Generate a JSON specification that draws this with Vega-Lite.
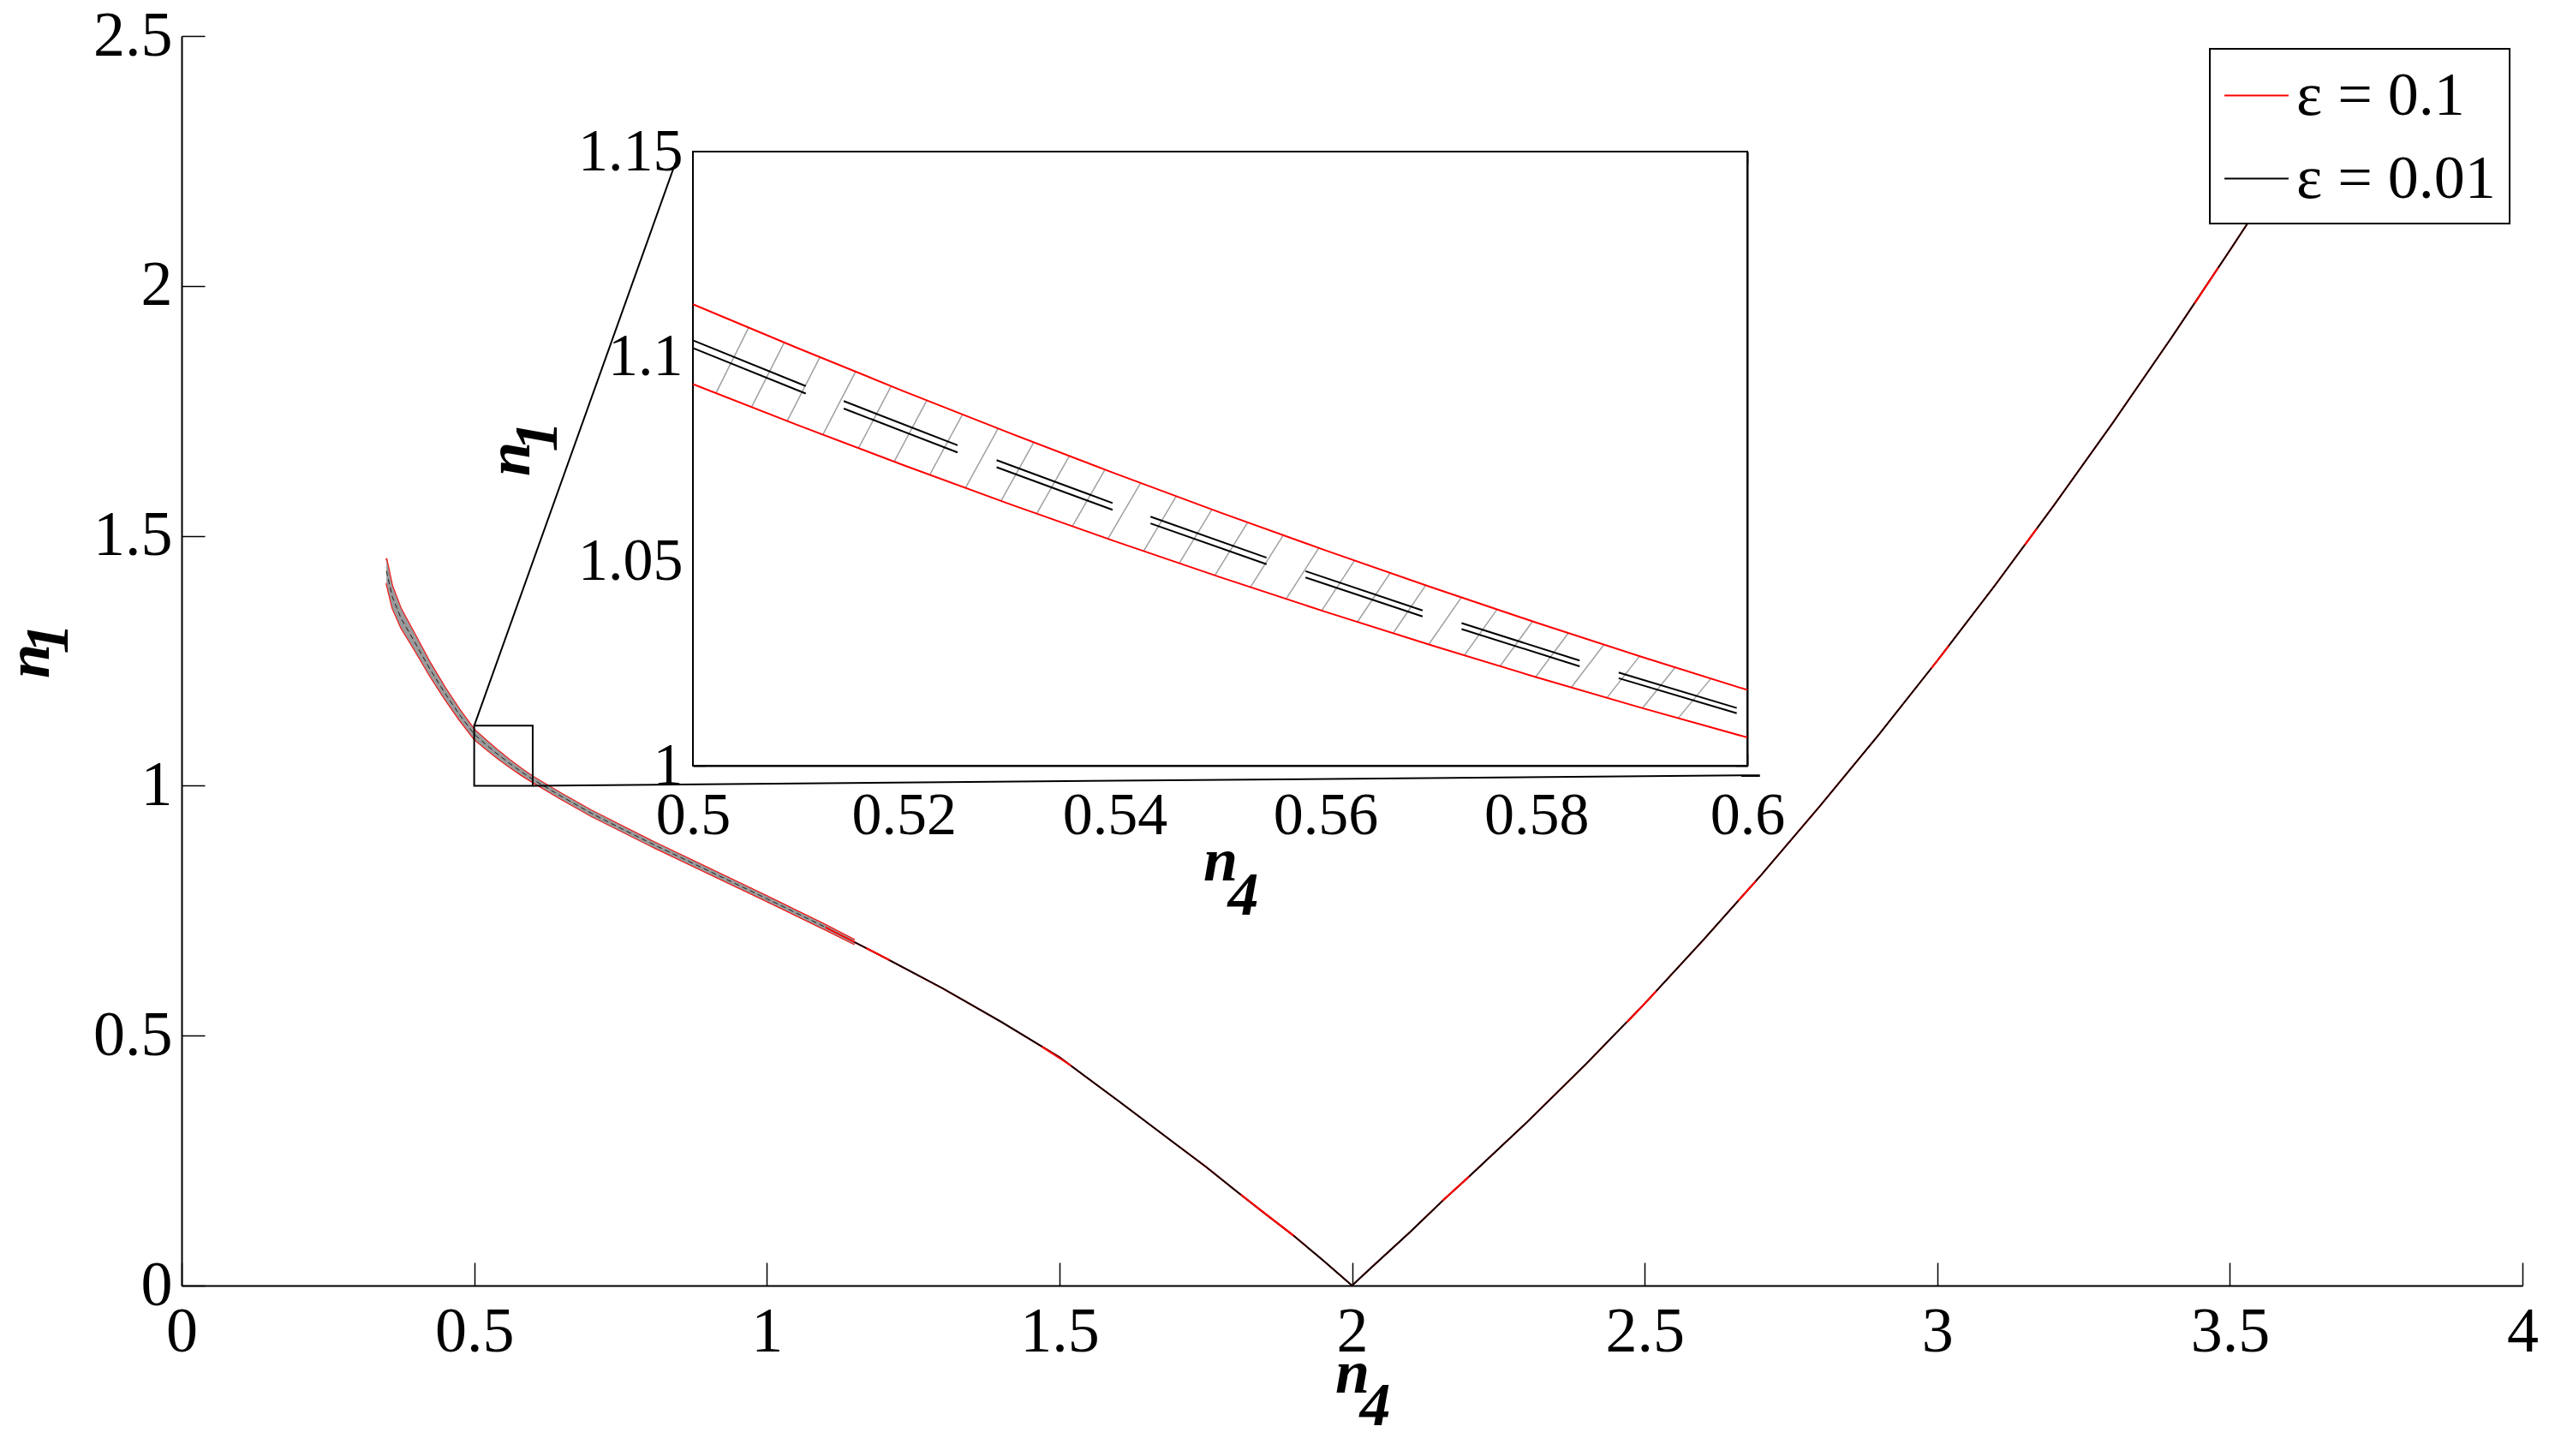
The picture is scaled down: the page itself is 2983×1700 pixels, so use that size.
{
  "$schema": "https://vega.github.io/schema/vega-lite/v6.json",
  "width": 2733,
  "height": 1459,
  "autosize": {"type": "none"},
  "padding": {"left": 212, "top": 42, "right": 38, "bottom": 199},
  "background": "white",
  "config": {
    "view": {"stroke": null},
    "legend": {"strokeWidth": 2},
    "axis": {"grid": false, "labelFont": "Liberation Serif", "titleFont": "Liberation Serif", "labelColor": "black", "titleColor": "black", "domainColor": "black", "tickColor": "black", "labelFlush": false, "labelOverlap": false, "zindex": 1}
  },
  "datasets": {
    "center": [
      {"x": 0.35, "y": 1.43}, {"x": 0.36, "y": 1.378}, {"x": 0.375, "y": 1.335}, {"x": 0.4, "y": 1.284}, {"x": 0.425, "y": 1.232},
      {"x": 0.45, "y": 1.185}, {"x": 0.475, "y": 1.142}, {"x": 0.5, "y": 1.103}, {"x": 0.52, "y": 1.0824}, {"x": 0.54, "y": 1.0631},
      {"x": 0.56, "y": 1.0451}, {"x": 0.58, "y": 1.0283}, {"x": 0.6, "y": 1.0127}, {"x": 0.65, "y": 0.978}, {"x": 0.7, "y": 0.945},
      {"x": 0.75, "y": 0.915}, {"x": 0.8, "y": 0.886}, {"x": 0.85, "y": 0.858}, {"x": 0.9, "y": 0.83}, {"x": 1.0, "y": 0.774},
      {"x": 1.1, "y": 0.717}, {"x": 1.15, "y": 0.687}, {"x": 1.2, "y": 0.657}, {"x": 1.3, "y": 0.595}, {"x": 1.4, "y": 0.528},
      {"x": 1.5, "y": 0.457}, {"x": 1.6, "y": 0.37}, {"x": 1.7, "y": 0.282}, {"x": 1.75, "y": 0.238}, {"x": 1.8, "y": 0.191},
      {"x": 1.85, "y": 0.145}, {"x": 1.9, "y": 0.1}, {"x": 1.95, "y": 0.051}, {"x": 2.0, "y": 0.0}, {"x": 2.033, "y": 0.036},
      {"x": 2.1, "y": 0.108}, {"x": 2.155, "y": 0.17}, {"x": 2.2, "y": 0.218}, {"x": 2.3, "y": 0.328}, {"x": 2.4, "y": 0.4435},
      {"x": 2.5, "y": 0.564}, {"x": 2.6, "y": 0.691}, {"x": 2.7, "y": 0.8225}, {"x": 2.8, "y": 0.96}, {"x": 2.9, "y": 1.102},
      {"x": 3.0, "y": 1.25}, {"x": 3.1, "y": 1.403}, {"x": 3.2, "y": 1.562}, {"x": 3.3, "y": 1.726}, {"x": 3.4, "y": 1.896},
      {"x": 3.5, "y": 2.071}, {"x": 3.56, "y": 2.178}
    ],
    "band": [
      {"x": 0.35, "lo": 1.405, "hi": 1.455}, {"x": 0.36, "lo": 1.356, "hi": 1.4}, {"x": 0.375, "lo": 1.316, "hi": 1.354},
      {"x": 0.4, "lo": 1.268, "hi": 1.3}, {"x": 0.425, "lo": 1.2185, "hi": 1.2455}, {"x": 0.45, "lo": 1.173, "hi": 1.197},
      {"x": 0.475, "lo": 1.1312, "hi": 1.1528}, {"x": 0.5, "lo": 1.0932, "hi": 1.1127}, {"x": 0.52, "lo": 1.0734, "hi": 1.0915},
      {"x": 0.54, "lo": 1.0548, "hi": 1.0714}, {"x": 0.56, "lo": 1.0376, "hi": 1.0526}, {"x": 0.58, "lo": 1.0216, "hi": 1.0349},
      {"x": 0.6, "lo": 1.0069, "hi": 1.0185}, {"x": 0.65, "lo": 0.972, "hi": 0.984}, {"x": 0.7, "lo": 0.9392, "hi": 0.9508},
      {"x": 0.8, "lo": 0.8804, "hi": 0.8916}, {"x": 0.9, "lo": 0.8245, "hi": 0.8355}, {"x": 1.0, "lo": 0.7688, "hi": 0.7792},
      {"x": 1.1, "lo": 0.712, "hi": 0.722}, {"x": 1.15, "lo": 0.6825, "hi": 0.6915}
    ],
    "spots": [
      {"seg": "s1", "x": 1.17, "y": 0.675}, {"seg": "s1", "x": 1.21, "y": 0.651},
      {"seg": "s2", "x": 1.47, "y": 0.478}, {"seg": "s2", "x": 1.52, "y": 0.44},
      {"seg": "s3", "x": 1.81, "y": 0.182}, {"seg": "s3", "x": 1.9, "y": 0.1},
      {"seg": "s4", "x": 2.155, "y": 0.17}, {"seg": "s4", "x": 2.2, "y": 0.218},
      {"seg": "s5", "x": 2.47, "y": 0.527}, {"seg": "s5", "x": 2.52, "y": 0.589},
      {"seg": "s6", "x": 2.66, "y": 0.77}, {"seg": "s6", "x": 2.69, "y": 0.809},
      {"seg": "s7", "x": 2.99, "y": 1.235}, {"seg": "s7", "x": 3.02, "y": 1.28},
      {"seg": "s9", "x": 3.15, "y": 1.482}, {"seg": "s9", "x": 3.17, "y": 1.514},
      {"seg": "s8", "x": 3.44, "y": 1.965}, {"seg": "s8", "x": 3.48, "y": 2.036}
    ],
    "conn": [
      {"x": 0.6, "y": 1.0, "x2": 2.697, "y2": 1.021},
      {"x": 0.5, "y": 1.12, "x2": 0.844, "y2": 2.2465}
    ],
    "zbox": [{"x": 0.5, "x2": 0.6, "y": 1.0, "y2": 1.12}],
    "ibox": [{"x": 0.5, "x2": 0.6, "y": 1.0, "y2": 1.15}],
    "ired": [
      {"side": "up", "x": 0.5, "y": 1.1127}, {"side": "up", "x": 0.51, "y": 1.10193}, {"side": "up", "x": 0.52, "y": 1.09146},
      {"side": "up", "x": 0.53, "y": 1.08129}, {"side": "up", "x": 0.54, "y": 1.07142}, {"side": "up", "x": 0.55, "y": 1.06185},
      {"side": "up", "x": 0.56, "y": 1.05258}, {"side": "up", "x": 0.57, "y": 1.04361}, {"side": "up", "x": 0.58, "y": 1.03494},
      {"side": "up", "x": 0.59, "y": 1.02657}, {"side": "up", "x": 0.6, "y": 1.0185},
      {"side": "lo", "x": 0.5, "y": 1.0932}, {"side": "lo", "x": 0.51, "y": 1.08313}, {"side": "lo", "x": 0.52, "y": 1.07338},
      {"side": "lo", "x": 0.53, "y": 1.06395}, {"side": "lo", "x": 0.54, "y": 1.05484}, {"side": "lo", "x": 0.55, "y": 1.04605},
      {"side": "lo", "x": 0.56, "y": 1.03758}, {"side": "lo", "x": 0.57, "y": 1.02943}, {"side": "lo", "x": 0.58, "y": 1.0216},
      {"side": "lo", "x": 0.59, "y": 1.01409}, {"side": "lo", "x": 0.6, "y": 1.0069}
    ],
    "iblk": [
      {"seg": "1a", "x": 0.5, "y": 1.1039}, {"seg": "1a", "x": 0.5107, "y": 1.09273},
      {"seg": "1b", "x": 0.5, "y": 1.102}, {"seg": "1b", "x": 0.5107, "y": 1.09089},
      {"seg": "2a", "x": 0.5143, "y": 1.08906}, {"seg": "2a", "x": 0.5251, "y": 1.07826},
      {"seg": "2b", "x": 0.5143, "y": 1.08724}, {"seg": "2b", "x": 0.5251, "y": 1.07651},
      {"seg": "3a", "x": 0.5288, "y": 1.07464}, {"seg": "3a", "x": 0.5398, "y": 1.06415},
      {"seg": "3b", "x": 0.5288, "y": 1.07292}, {"seg": "3b", "x": 0.5398, "y": 1.06249},
      {"seg": "4a", "x": 0.5434, "y": 1.06082}, {"seg": "4a", "x": 0.5544, "y": 1.0508},
      {"seg": "4b", "x": 0.5434, "y": 1.05918}, {"seg": "4b", "x": 0.5544, "y": 1.04922},
      {"seg": "5a", "x": 0.5581, "y": 1.04752}, {"seg": "5a", "x": 0.5692, "y": 1.03793},
      {"seg": "5b", "x": 0.5581, "y": 1.04596}, {"seg": "5b", "x": 0.5692, "y": 1.03645},
      {"seg": "6a", "x": 0.5729, "y": 1.03483}, {"seg": "6a", "x": 0.5841, "y": 1.02568},
      {"seg": "6b", "x": 0.5729, "y": 1.03337}, {"seg": "6b", "x": 0.5841, "y": 1.02428},
      {"seg": "7a", "x": 0.5878, "y": 1.02274}, {"seg": "7a", "x": 0.599, "y": 1.0141},
      {"seg": "7b", "x": 0.5878, "y": 1.02136}, {"seg": "7b", "x": 0.599, "y": 1.0128}
    ],
    "hatch": [
      {"x": 0.50218, "y": 1.09098, "x2": 0.50528, "y2": 1.10698}, {"x": 0.50556, "y": 1.08756, "x2": 0.50866, "y2": 1.10336},
      {"x": 0.50894, "y": 1.08418, "x2": 0.51204, "y2": 1.09977}, {"x": 0.51232, "y": 1.08084, "x2": 0.51542, "y2": 1.09622},
      {"x": 0.5157, "y": 1.07753, "x2": 0.5188, "y2": 1.0927}, {"x": 0.51908, "y": 1.07426, "x2": 0.52218, "y2": 1.08922},
      {"x": 0.52246, "y": 1.07103, "x2": 0.52556, "y2": 1.08577}, {"x": 0.52584, "y": 1.06783, "x2": 0.52894, "y2": 1.08235},
      {"x": 0.52922, "y": 1.06467, "x2": 0.53232, "y2": 1.07897}, {"x": 0.5326, "y": 1.06155, "x2": 0.5357, "y2": 1.07563},
      {"x": 0.53598, "y": 1.05846, "x2": 0.53908, "y2": 1.07232}, {"x": 0.53936, "y": 1.05541, "x2": 0.54246, "y2": 1.06904},
      {"x": 0.54274, "y": 1.0524, "x2": 0.54584, "y2": 1.0658}, {"x": 0.54612, "y": 1.04942, "x2": 0.54922, "y2": 1.06259},
      {"x": 0.5495, "y": 1.04648, "x2": 0.5526, "y2": 1.05941}, {"x": 0.55288, "y": 1.04358, "x2": 0.55598, "y2": 1.05627},
      {"x": 0.55626, "y": 1.04071, "x2": 0.55936, "y2": 1.05316}, {"x": 0.55964, "y": 1.03788, "x2": 0.56274, "y2": 1.05009},
      {"x": 0.56302, "y": 1.03509, "x2": 0.56612, "y2": 1.04706}, {"x": 0.5664, "y": 1.03233, "x2": 0.5695, "y2": 1.04405},
      {"x": 0.56978, "y": 1.02961, "x2": 0.57288, "y2": 1.04108}, {"x": 0.57316, "y": 1.02692, "x2": 0.57626, "y2": 1.03815},
      {"x": 0.57654, "y": 1.02427, "x2": 0.57964, "y2": 1.03525}, {"x": 0.57992, "y": 1.02166, "x2": 0.58302, "y2": 1.03238},
      {"x": 0.5833, "y": 1.01909, "x2": 0.5864, "y2": 1.02955}, {"x": 0.58668, "y": 1.01655, "x2": 0.58978, "y2": 1.02675},
      {"x": 0.59006, "y": 1.01405, "x2": 0.59316, "y2": 1.02399}, {"x": 0.59344, "y": 1.01158, "x2": 0.59654, "y2": 1.02126}
    ]
  },
  "layer": [
    {
      "layer": [
        {
          "data": {"name": "band"},
          "mark": {"type": "line", "color": "#ff0000", "strokeWidth": 2},
          "encoding": {
            "x": {"field": "x", "type": "quantitative", "scale": {"domain": [0, 4], "nice": false, "zero": false},
              "axis": {"orient": "bottom", "values": [0, 0.5, 1, 1.5, 2, 2.5, 3, 3.5, 4], "format": "~g", "labelFontSize": 74, "tickSize": -27, "tickWidth": 1.5, "domainWidth": 2, "labelPadding": 45,
                "title": ["n", "\u28004"], "titleFontSize": 72, "titleFontWeight": "bold", "titleFontStyle": "italic", "titleLineHeight": 38, "titlePadding": -24}},
            "y": {"field": "hi", "type": "quantitative", "scale": {"domain": [0, 2.5], "nice": false, "zero": false},
              "axis": {"orient": "left", "values": [0, 0.5, 1, 1.5, 2, 2.5], "format": "~g", "labelFontSize": 74, "tickSize": -27, "tickWidth": 1.5, "domainWidth": 2, "labelPadding": 38,
                "title": ["n", "\u28001"], "titleFontSize": 72, "titleFontWeight": "bold", "titleFontStyle": "italic", "titleLineHeight": 22, "titlePadding": 15}}
          }
        },
        {
          "data": {"name": "band"},
          "mark": {"type": "line", "color": "#ff0000", "strokeWidth": 2},
          "encoding": {"x": {"field": "x", "type": "quantitative"}, "y": {"field": "lo", "type": "quantitative"}}
        },
        {
          "data": {"name": "band"},
          "mark": {"type": "area", "color": "#9a9a9a", "opacity": 1},
          "encoding": {
            "x": {"field": "x", "type": "quantitative"},
            "y": {"field": "lo", "type": "quantitative"},
            "y2": {"field": "hi"}
          }
        },
        {
          "data": {"name": "center"},
          "transform": [{"filter": "datum.x <= 1.15"}],
          "mark": {"type": "line", "color": "black", "strokeWidth": 1, "strokeDash": [6, 4], "opacity": 0.8},
          "encoding": {"x": {"field": "x", "type": "quantitative"}, "y": {"field": "y", "type": "quantitative"}}
        },
        {
          "data": {"name": "center"},
          "transform": [{"filter": "datum.x >= 1.1"}],
          "mark": {"type": "line", "strokeWidth": 2},
          "encoding": {
            "x": {"field": "x", "type": "quantitative"},
            "y": {"field": "y", "type": "quantitative"},
            "color": {"datum": "ε = 0.1", "type": "nominal",
              "scale": {"domain": ["ε = 0.1", "ε = 0.01"], "range": ["#ff0000", "#000000"]},
              "legend": {"orient": "top-right", "offset": 15, "title": null, "strokeColor": "black", "fillColor": "white", "padding": 16,
                "symbolType": "stroke", "symbolSize": 5600, "symbolStrokeWidth": 2, "labelFont": "Liberation Serif", "labelFontSize": 72, "labelColor": "black", "labelLimit": 600,
                "rowPadding": 22, "labelOffset": 8, "cornerRadius": 0, "zindex": 2}}
          }
        },
        {
          "data": {"name": "center"},
          "transform": [{"filter": "datum.x >= 1.15"}],
          "mark": {"type": "line", "strokeWidth": 1.8},
          "encoding": {
            "x": {"field": "x", "type": "quantitative"},
            "y": {"field": "y", "type": "quantitative"},
            "color": {"datum": "ε = 0.01", "type": "nominal"}
          }
        },
        {
          "data": {"name": "spots"},
          "mark": {"type": "line", "strokeWidth": 2},
          "encoding": {
            "x": {"field": "x", "type": "quantitative"},
            "y": {"field": "y", "type": "quantitative"},
            "detail": {"field": "seg"},
            "color": {"datum": "ε = 0.1", "type": "nominal"}
          }
        },
        {
          "data": {"name": "conn"},
          "mark": {"type": "rule", "color": "black", "strokeWidth": 2},
          "encoding": {
            "x": {"field": "x", "type": "quantitative"}, "y": {"field": "y", "type": "quantitative"},
            "x2": {"field": "x2"}, "y2": {"field": "y2"}
          }
        },
        {
          "data": {"name": "zbox"},
          "mark": {"type": "rect", "fill": null, "fillOpacity": 0, "stroke": "black", "strokeWidth": 2},
          "encoding": {
            "x": {"field": "x", "type": "quantitative"}, "y": {"field": "y", "type": "quantitative"},
            "x2": {"field": "x2"}, "y2": {"field": "y2"}
          }
        }
      ]
    },
    {
      "layer": [
        {
          "data": {"name": "ibox"},
          "mark": {"type": "rect", "fill": "white", "stroke": "black", "strokeWidth": 2},
          "encoding": {
            "x": {"field": "x", "type": "quantitative", "scale": {"domain": [0.5, 0.6], "range": [597, 1828], "nice": false, "zero": false},
              "axis": {"orient": "bottom", "offset": -607, "values": [0.5, 0.52, 0.54, 0.56, 0.58, 0.6], "format": "~g", "labelFontSize": 70, "tickSize": -14, "tickWidth": 1.5, "domainWidth": 2, "labelPadding": 38,
                "title": ["n", "\u28004"], "titleFontSize": 72, "titleFontWeight": "bold", "titleFontStyle": "italic", "titleLineHeight": 40, "titlePadding": -17}},
            "y": {"field": "y", "type": "quantitative", "scale": {"domain": [1, 1.15], "range": [852, 135], "nice": false, "zero": false},
              "axis": {"orient": "left", "offset": -597, "values": [1, 1.05, 1.1, 1.15], "format": "~g", "labelFontSize": 70, "tickSize": -14, "tickWidth": 1.5, "domainWidth": 2, "labelPadding": 26,
                "title": ["n", "\u28001"], "titleFontSize": 72, "titleFontWeight": "bold", "titleFontStyle": "italic", "titleLineHeight": 32, "titlePadding": 10}},
            "x2": {"field": "x2"}, "y2": {"field": "y2"}
          }
        },
        {
          "data": {"name": "hatch"},
          "mark": {"type": "rule", "color": "#a0a0a0", "strokeWidth": 1.5},
          "encoding": {
            "x": {"field": "x", "type": "quantitative",
              "axis": {"orient": "top", "offset": -135, "values": [0.5, 0.52, 0.54, 0.56, 0.58, 0.6], "labels": false, "title": null, "tickSize": -14, "tickWidth": 1.5, "domainWidth": 2}},
            "y": {"field": "y", "type": "quantitative",
              "axis": {"orient": "right", "offset": -905, "values": [1, 1.05, 1.1, 1.15], "labels": false, "title": null, "tickSize": -14, "tickWidth": 1.5, "domainWidth": 2}},
            "x2": {"field": "x2"}, "y2": {"field": "y2"}
          }
        },
        {
          "data": {"name": "ired"},
          "mark": {"type": "line", "color": "#ff0000", "strokeWidth": 2},
          "encoding": {
            "x": {"field": "x", "type": "quantitative", "axis": null},
            "y": {"field": "y", "type": "quantitative", "axis": null},
            "detail": {"field": "side"}
          }
        },
        {
          "data": {"name": "iblk"},
          "mark": {"type": "line", "color": "black", "strokeWidth": 2},
          "encoding": {
            "x": {"field": "x", "type": "quantitative", "axis": null},
            "y": {"field": "y", "type": "quantitative", "axis": null},
            "detail": {"field": "seg"}
          }
        }
      ]
    }
  ],
  "resolve": {"scale": {"x": "independent", "y": "independent"}}
}
